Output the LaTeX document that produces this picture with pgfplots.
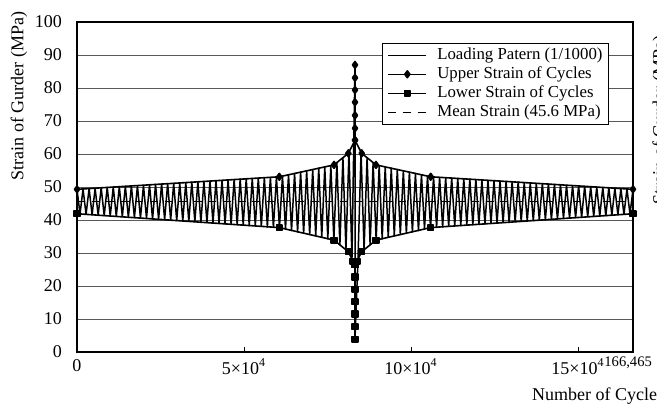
\documentclass[border=0pt]{standalone}
\usepackage{fontspec}
\setmainfont{Liberation Serif}
\usepackage{pgfplots}
\pgfplotsset{compat=1.18}
\begin{document}
\begin{tikzpicture}[x=1pt,y=1pt]
\useasboundingbox (-38.5,-25.5) rectangle (290,176);
\clip (-38.5,-25.5) rectangle (290,176);
\begin{axis}[
  at={(0,0)}, anchor=south west,
  scale only axis, width=278pt, height=165pt,
  xmin=0, xmax=166465, ymin=0, ymax=100,
  axis line style={line width=0.9pt},
  scaled x ticks=false,
  xtick={0,50000,100000,150000},
  xticklabels={0,5×10\textsuperscript{4},10×10\textsuperscript{4},15×10\textsuperscript{4}},
  xtick pos=bottom, ytick pos=left,
  tick align=inside, major tick length=2.5pt,
  ytick={0,10,...,100},
  ytick style={draw=none},
  xtick style={line width=0.5pt, black},
  ymajorgrids, grid style={black!65, line width=0.5pt},
  tick label style={font=\fontsize{9}{10}\selectfont},
  /pgf/number format/assume math mode=true,
  yticklabel style={xshift=-4pt},
  xlabel={Number of Cycles}, ylabel={Strain of Gurder (MPa)},
  label style={font=\fontsize{9}{11}\selectfont},
  xlabel style={at={(axis description cs:0.8178,-0.1333)}, anchor=west, inner sep=0pt},
  ylabel style={at={(axis description cs:-0.1043,0.7758)}, anchor=center},
  legend cell align=left,
  legend image code/.code={\draw[mark repeat=2,mark phase=2,#1] plot coordinates {(0pt,0pt) (9.5pt,0pt) (19pt,0pt)};},
  legend style={
    at={(axis description cs:0.5486,0.936)}, anchor=north west,
    draw=black, line width=0.5pt, fill=white,
    font=\fontsize{8.4}{9}\selectfont,
    inner xsep=2.5pt, inner ysep=1.2pt,
    row sep=0.2pt,
    nodes={inner sep=0.6pt, text height=6.2pt, text depth=1.9pt},
    /tikz/every odd column/.append style={column sep=4.5pt},
  },
]
\addplot[black, line width=0.75pt, line join=round, mark=none] coordinates {
(0,49.3)(905,41.8)(1809,49.4)(2714,41.7)(3619,49.5)(4524,41.6)(5428,49.6)(6333,41.5)(7238,49.8)(8142,41.3)
(9047,49.9)(9952,41.2)(10856,50.0)(11761,41.1)(12666,50.1)(13571,41.0)(14475,50.2)(15380,40.8)(16285,50.3)(17189,40.7)
(18094,50.4)(18999,40.6)(19903,50.5)(20808,40.5)(21713,50.7)(22618,40.3)(23522,50.8)(24427,40.2)(25332,50.9)(26236,40.1)
(27141,51.0)(28046,40.0)(28950,51.1)(29855,39.8)(30760,51.2)(31665,39.7)(32569,51.3)(33474,39.6)(34379,51.5)(35283,39.5)
(36188,51.6)(37093,39.3)(37997,51.7)(38902,39.2)(39807,51.8)(40712,39.1)(41616,51.9)(42521,39.0)(43426,52.0)(44330,38.8)
(45235,52.1)(46140,38.7)(47044,52.3)(47949,38.6)(48854,52.4)(49759,38.5)(50663,52.5)(51568,38.3)(52473,52.6)(53377,38.2)
(54282,52.7)(55187,38.1)(56091,52.8)(56996,37.9)(57901,52.9)(58806,37.8)(59710,53.0)(60615,37.7)(61520,53.3)(62424,37.3)
(63329,53.7)(64234,36.8)(65138,54.1)(66043,36.4)(66948,54.5)(67853,36.0)(68757,54.9)(69662,35.6)(70567,55.3)(71471,35.2)
(72376,55.7)(73281,34.8)(74185,56.1)(75090,34.3)(75995,56.5)(76900,33.9)(77804,57.4)(78709,32.5)(79614,58.9)(80518,31.0)
(81423,60.6)(82328,28.5)(83232,87.0)(83232,3.9)
(84136,28.5)(85041,60.6)(85946,31.0)(86850,58.9)(87755,32.5)(88660,57.4)(89564,33.9)(90469,56.5)(91374,34.3)(92279,56.1)
(93183,34.8)(94088,55.7)(94993,35.2)(95897,55.3)(96802,35.6)(97707,54.9)(98611,36.0)(99516,54.5)(100421,36.4)(101326,54.1)
(102230,36.8)(103135,53.7)(104040,37.3)(104944,53.3)(105849,37.7)(106754,53.0)(107658,37.8)(108563,52.9)(109468,37.9)(110373,52.8)
(111277,38.1)(112182,52.7)(113087,38.2)(113991,52.6)(114896,38.3)(115801,52.5)(116705,38.5)(117610,52.4)(118515,38.6)(119420,52.3)
(120324,38.7)(121229,52.1)(122134,38.8)(123038,52.0)(123943,39.0)(124848,51.9)(125752,39.1)(126657,51.8)(127562,39.2)(128467,51.7)
(129371,39.3)(130276,51.6)(131181,39.5)(132085,51.5)(132990,39.6)(133895,51.3)(134799,39.7)(135704,51.2)(136609,39.8)(137514,51.1)
(138418,40.0)(139323,51.0)(140228,40.1)(141132,50.9)(142037,40.2)(142942,50.8)(143846,40.3)(144751,50.7)(145656,40.5)(146561,50.5)
(147465,40.6)(148370,50.4)(149275,40.7)(150179,50.3)(151084,40.8)(151989,50.2)(152893,41.0)(153798,50.1)(154703,41.1)(155608,50.0)
(156512,41.2)(157417,49.9)(158322,41.3)(159226,49.8)(160131,41.5)(161036,49.6)(161940,41.6)(162845,49.5)(163750,41.7)(164655,49.4)
(165559,41.8)(166465,49.3)
};
\addlegendentry{Loading Patern (1/1000)}
\addplot[black, line width=0.8pt, line join=round, mark=diamond*, mark size=1.7pt] coordinates {
(0,49.3)(60570,53.1)(76950,56.7)(81230,60.2)(83232,64.2)(83232,67.8)(83232,71.7)(83232,75.7)(83232,79.4)(83232,83.1)(83232,87.0)
(83232,64.2)(85234,60.2)(89514,56.7)(105894,53.1)(166465,49.3)
};
\addlegendentry{Upper Strain of Cycles}
\addplot[black, line width=0.8pt, line join=round, mark=square*, mark size=1.4pt] coordinates {
(0,41.9)(60570,37.7)(76950,33.9)(81230,30.4)(82632,27.5)(83232,26.4)(83232,22.7)(83232,19.0)(83232,15.2)(83232,11.5)(83232,7.7)(83232,3.9)
(83232,26.4)(83832,27.5)(85234,30.4)(89514,33.9)(105894,37.7)(166465,41.9)
};
\addlegendentry{Lower Strain of Cycles}
\addplot[black, line width=0.6pt, dash pattern=on 4pt off 3.3pt] coordinates {(0,45.6)(166465,45.6)};
\addlegendentry{Mean Strain (45.6 MPa)}
\end{axis}
\node[anchor=north west, inner sep=0pt, font=\fontsize{7.3}{8}\selectfont] at (263.5,-2) {166,465};
\node[anchor=north, rotate=90, inner sep=0pt, font=\fontsize{9}{11}\selectfont] at (287.5,116) {Strain of Gurder (MPa)};
\end{tikzpicture}
\end{document}
